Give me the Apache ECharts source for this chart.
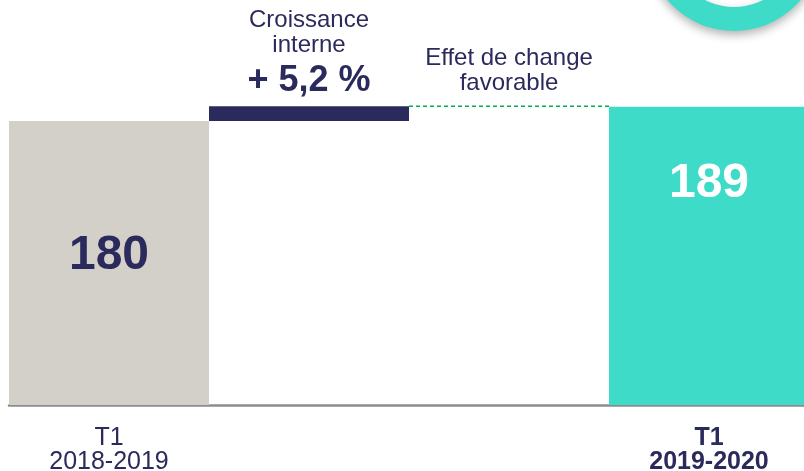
<!DOCTYPE html>
<html>
<head>
<meta charset="utf-8">
<title>Chiffre d'affaires T1</title>
<script src="https://cdn.jsdelivr.net/npm/echarts@6/dist/echarts.min.js"></script>
<style>
  html, body { margin: 0; padding: 0; background: #fff; }
  #main { width: 804px; height: 471px; }
</style>
</head>
<body>
<div id="main"></div>
<script type="text/javascript">
// data
var categories = ['T1\n2018-2019', 'Croissance interne', 'Effet de change favorable', 'T1\n2019-2020'];
var startValue = 180;
var internalGrowth = 9.4;   // + 5,2 %
var fxEffect = 0;           // favorable but tiny
var endValue = 189;
var growthText = '+ 5,2 %';

var NAVY = '#2b2a5c';
var TURQ = '#3edbc8';
var GREY = '#d3cfc9';

var afterGrowth = startValue + internalGrowth;
var afterFx = afterGrowth + fxEffect;

var baseData = [0, startValue, afterGrowth, 0];
var deltaData = [
  { value: startValue, itemStyle: { color: GREY },
    label: { show: true, position: 'inside', offset: [0, -7], formatter: '{c}', color: NAVY, fontSize: 48, fontWeight: 'bold' } },
  { value: internalGrowth, itemStyle: { color: NAVY },
    label: { show: true, position: 'top', distance: 2, formatter: '{a|Croissance}\n{a|interne}\n{b|' + growthText + '}',
      rich: {
        a: { fontSize: 24, lineHeight: 25, color: NAVY, fontFamily: 'Liberation Sans' },
        b: { fontSize: 36, lineHeight: 46, color: NAVY, fontWeight: 'bold', fontFamily: 'Liberation Sans' }
      } } },
  { value: fxEffect, itemStyle: { color: 'transparent' } },
  { value: endValue, itemStyle: { color: TURQ },
    label: { show: true, position: 'insideTop', distance: 53, formatter: '{c}', color: '#fff', fontSize: 48, fontWeight: 'bold' } }
];

var myChart = echarts.init(document.getElementById('main'));

var option = {
  animation: false,
  textStyle: { fontFamily: 'Liberation Sans' },
  grid: { left: 9, width: 800, top: 10.5, height: 394.5, outerBoundsMode: 'none', containLabel: false },
  xAxis: {
    type: 'category',
    data: categories,
    axisLine: { lineStyle: { color: '#8c8c8c', width: 2.5 } },
    axisTick: { show: false },
    axisLabel: {
      interval: 0,
      margin: 21,
      formatter: function (v, i) {
        if (i === 0) return '{n|' + v.split('\n').join('}\n{n|') + '}';
        if (i === categories.length - 1) return '{b|' + v.split('\n').join('}\n{b|') + '}';
        return '';
      },
      rich: {
        n: { fontSize: 25, lineHeight: 24, color: NAVY, fontFamily: 'Liberation Sans' },
        b: { fontSize: 25, lineHeight: 24, color: NAVY, fontWeight: 'bold', fontFamily: 'Liberation Sans' }
      }
    }
  },
  yAxis: { type: 'value', min: 0, max: 250, show: false },
  series: [
    {
      type: 'bar', stack: 'w', data: baseData, barCategoryGap: 0,
      itemStyle: { color: 'transparent' }, silent: true
    },
    {
      type: 'bar', stack: 'w', data: deltaData, barCategoryGap: 0
    },
    {
      // dashed bridge + label for the exchange-rate effect
      type: 'custom',
      data: [[2, afterFx]],
      z: 5,
      renderItem: function (params, api) {
        var p = api.coord([api.value(0), api.value(1)]);
        var w = api.size([1, 0])[0];
        return {
          type: 'group',
          children: [
            {
              type: 'line',
              shape: { x1: p[0] - w / 2, y1: p[1], x2: p[0] + w / 2, y2: p[1] },
              style: { stroke: '#00b050', lineWidth: 1.5, lineDash: [4, 3] }
            },
            {
              type: 'text',
              style: {
                text: 'Effet de change\nfavorable',
                x: p[0], y: p[1] - 10.5,
                align: 'center', verticalAlign: 'bottom',
                fill: NAVY, fontSize: 24, lineHeight: 25, fontFamily: 'Liberation Sans'
              }
            }
          ]
        };
      }
    }
  ],
  graphic: [
    {
      type: 'ring',
      shape: { cx: 734, cy: -56, r: 87, r0: 63 },
      style: { fill: TURQ, shadowBlur: 10, shadowOffsetY: 4, shadowColor: 'rgba(0,0,0,0.3)' },
      z: 10
    }
  ]
};

myChart.setOption(option);
</script>
</body>
</html>
